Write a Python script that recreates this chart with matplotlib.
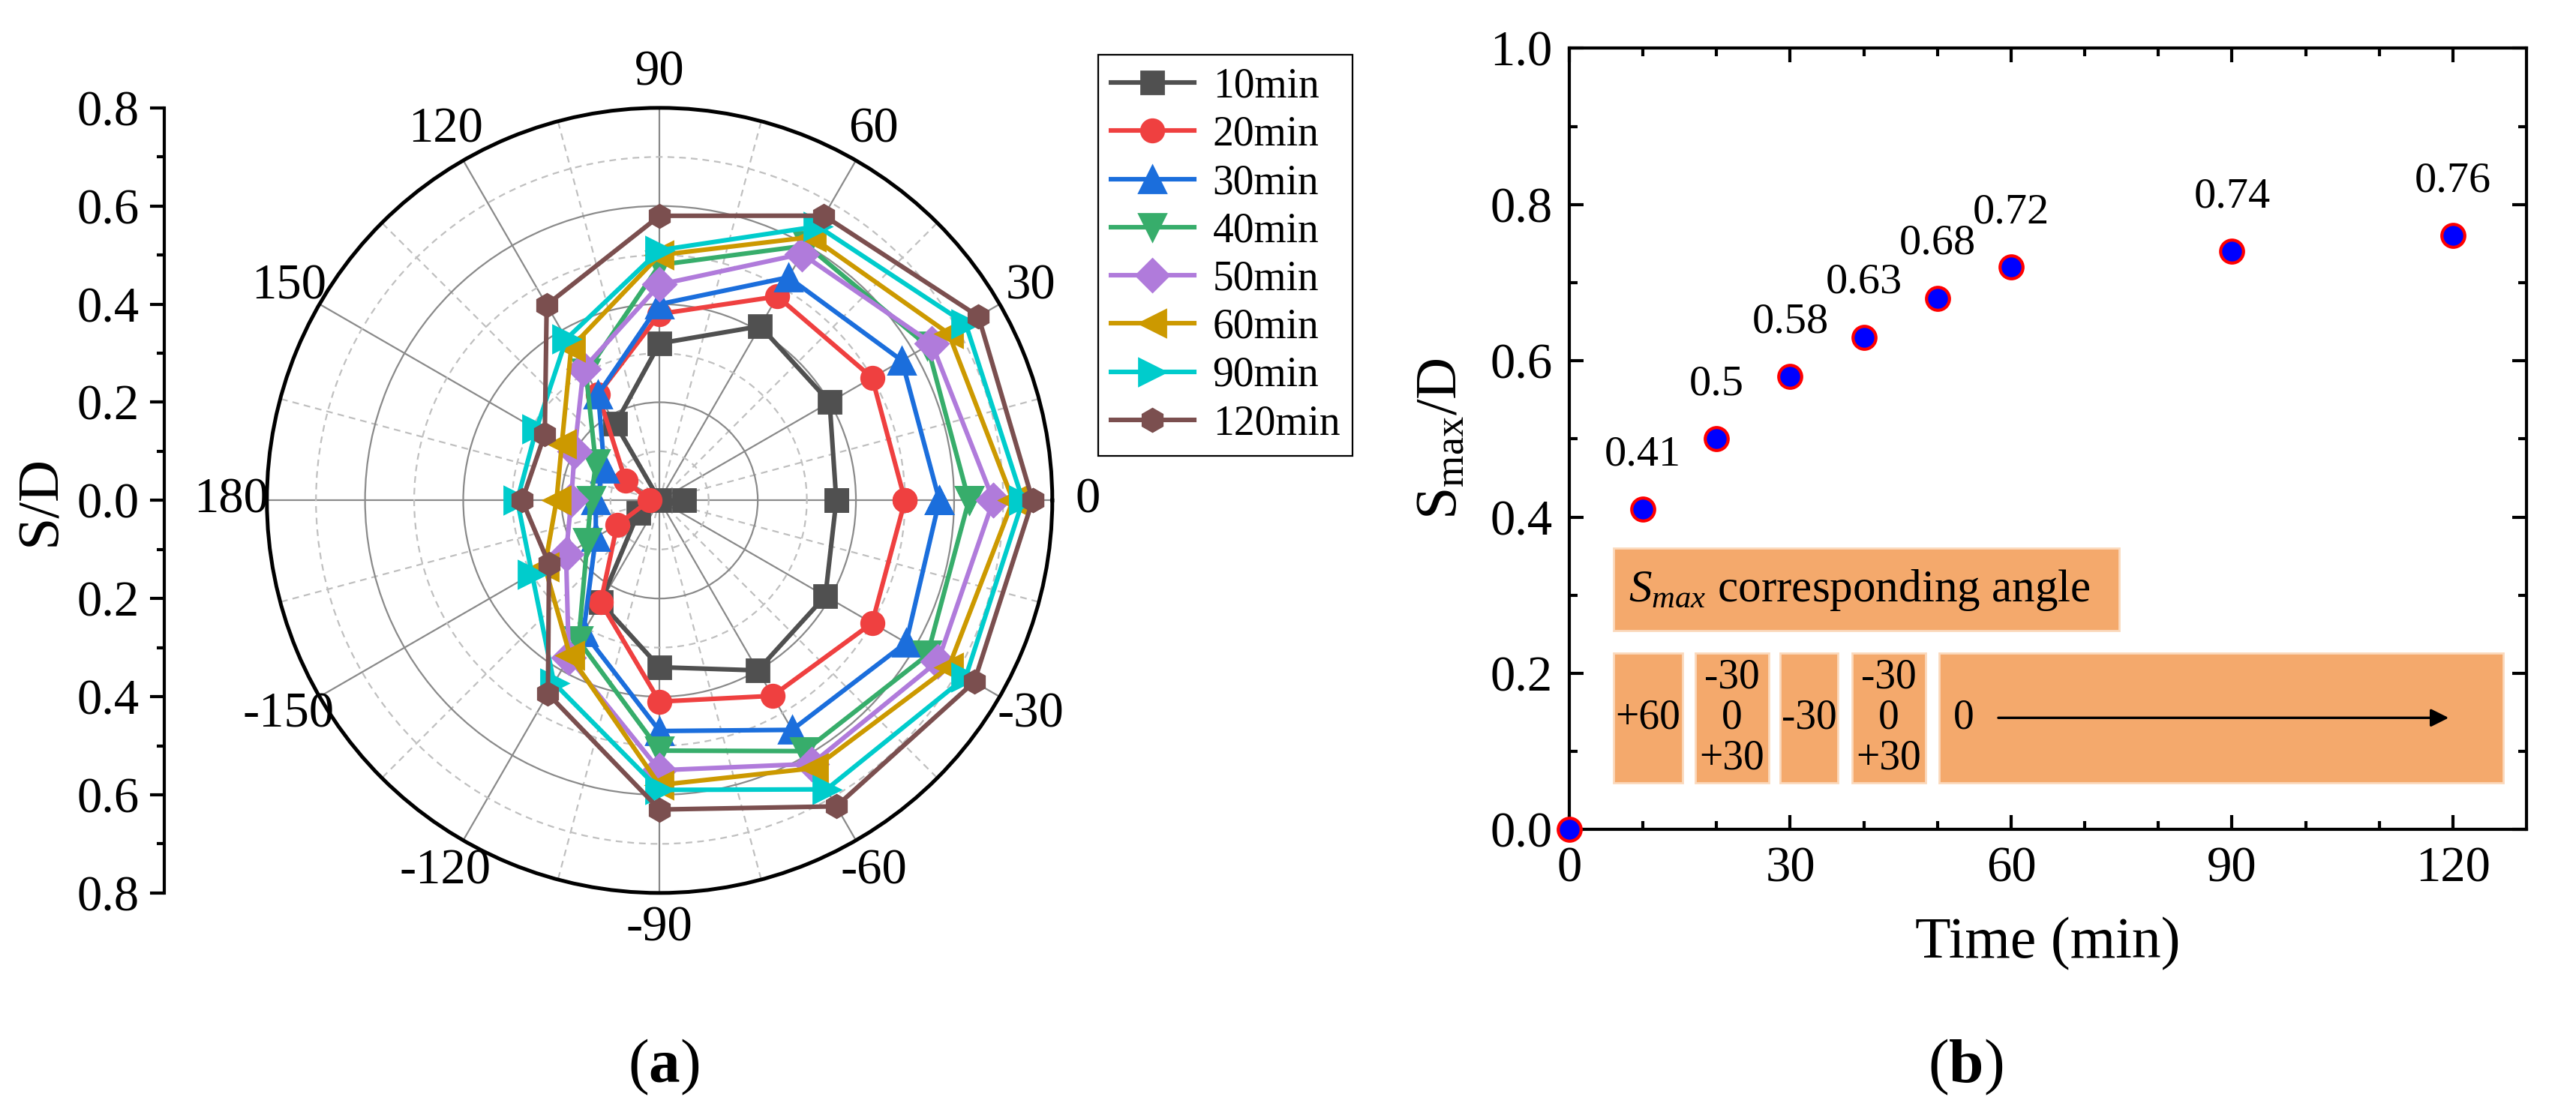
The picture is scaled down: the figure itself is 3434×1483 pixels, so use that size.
import matplotlib.pyplot as plt
import numpy as np
from matplotlib.lines import Line2D
from matplotlib.patches import Rectangle

plt.rcParams['font.family'] = ['Liberation Serif', 'DejaVu Serif']
plt.rcParams['mathtext.fontset'] = 'custom'
plt.rcParams['mathtext.rm'] = 'Liberation Serif'
plt.rcParams['mathtext.it'] = 'Liberation Serif:italic'
plt.rcParams['mathtext.bf'] = 'Liberation Serif:bold'

# ---- panel (a): S/D around the pile, one value per direction (deg) ----
ANGLES = [0, 30, 60, 90, 120, 150, 180, 210, 240, 270, 300, 330]
THETA_LABELS = ['0', '30', '60', '90', '120', '150', '180',
                '-150', '-120', '-90', '-60', '-30']

SD_10 = [0.36, 0.40, 0.41, 0.32, 0.18, 0.00, -0.05, 0.05, 0.24, 0.34, 0.40, 0.39]
SD_20 = [0.50, 0.50, 0.48, 0.38, 0.25, 0.08, 0.02, 0.10, 0.24, 0.41, 0.46, 0.50]
SD_30 = [0.57, 0.57, 0.525, 0.40, 0.25, 0.13, 0.13, 0.15, 0.31, 0.47, 0.54, 0.58]
SD_40 = [0.63, 0.63, 0.60, 0.48, 0.30, 0.15, 0.14, 0.17, 0.33, 0.51, 0.59, 0.63]
SD_50 = [0.68, 0.64, 0.58, 0.44, 0.31, 0.20, 0.18, 0.22, 0.37, 0.55, 0.62, 0.655]
SD_60 = [0.72, 0.68, 0.62, 0.50, 0.36, 0.23, 0.21, 0.27, 0.365, 0.58, 0.63, 0.68]
SD_90 = [0.74, 0.72, 0.645, 0.51, 0.38, 0.29, 0.29, 0.30, 0.43, 0.59, 0.68, 0.72]
SD_120 = [0.76, 0.75, 0.67, 0.58, 0.46, 0.27, 0.28, 0.26, 0.455, 0.63, 0.72, 0.74]

SERIES_LABELS = ['10min', '20min', '30min', '40min', '50min', '60min', '90min', '120min']
SERIES_VALUES = [SD_10, SD_20, SD_30, SD_40, SD_50, SD_60, SD_90, SD_120]
COLORS = ['#505050', '#EF4040', '#1B6EDC', '#37AD6B', '#B07BDB', '#CC9900', '#00CCCC', '#7B4F4F']
MARKERS = ['s', 'o', '^', 'v', 'D', '<', '>', 'h']

# ---- panel (b): maximum scour depth vs time ----
TIME = [0, 10, 20, 30, 40, 50, 60, 90, 120]
SMAX = [0.0, 0.41, 0.50, 0.58, 0.63, 0.68, 0.72, 0.74, 0.76]

ANGLE_BOX_X = [(6.0, 15.4), (17.1, 27.1), (28.6, 36.5), (38.4, 48.4), (50.2, 126.8)]
ANGLE_BOX_TEXT = ['+60', '-30\n0\n+30', '-30', '-30\n0\n+30', '0']
ORANGE = '#F4A96C'

fig = plt.figure(figsize=(17.17, 7.415), dpi=200)

# polar panel
ax = fig.add_axes([0.1036, 0.197, 0.3049, 0.706], projection='polar')
ax.set_theta_zero_location('E')
ax.set_theta_direction(1)
ax.set_rlim(0, 0.8)

ax.set_xticks(np.deg2rad(ANGLES))
ax.set_xticklabels(THETA_LABELS, fontsize=24)
ax.set_xticks(np.deg2rad(np.arange(15, 360, 30)), minor=True)
ax.set_yticks([0.2, 0.4, 0.6])
ax.set_yticks([0.1, 0.3, 0.5, 0.7], minor=True)
ax.set_yticklabels([])
ax.tick_params(axis='x', which='major', direction='in', length=7, width=1.5, pad=10)
ax.tick_params(axis='x', which='minor', direction='in', length=3.5, width=1.2)
ax.tick_params(axis='y', which='both', length=0)
ax.grid(True, which='major', color='#8a8a8a', linestyle='-', linewidth=0.8)
ax.grid(True, which='minor', color='#c0c0c0', linestyle=(0, (4, 3)), linewidth=0.8)
ax.spines['polar'].set_linewidth(1.8)

theta = np.deg2rad(ANGLES + [ANGLES[0]])
handles = []
for label, vals, color, marker in zip(SERIES_LABELS, SERIES_VALUES, COLORS, MARKERS):
    r = np.array(vals + [vals[0]])
    # negative radius is drawn on the opposite side, as in the original plot
    th = np.where(r < 0, theta + np.pi, theta)
    ms = 13 if marker in '^v<>' else 11
    ax.plot(th, np.abs(r), color=color, marker=marker, markersize=ms,
            linewidth=2.2, label=label, clip_on=False)
    handles.append(Line2D([], [], color=color, marker=marker, markersize=ms, linewidth=2.2))

# S/D scale on the left of the polar plot
axl = fig.add_axes([0.0638, 0.197, 0.0001, 0.706])
for side in ['top', 'right', 'bottom']:
    axl.spines[side].set_visible(False)
axl.spines['left'].set_linewidth(1.5)
axl.set_xticks([])
axl.set_ylim(-0.8, 0.8)
ticks = np.round(np.arange(-0.8, 0.81, 0.2), 1)
axl.set_yticks(ticks)
axl.set_yticklabels([f'{abs(t):.1f}' for t in ticks], fontsize=24)
axl.set_yticks(np.round(np.arange(-0.7, 0.71, 0.2), 1), minor=True)
axl.tick_params(axis='y', which='major', direction='out', length=7, width=1.5, pad=5)
axl.tick_params(axis='y', which='minor', direction='out', length=3.5, width=1.5)
fig.text(0.016, 0.55, 'S/D', rotation=90, fontsize=28, ha='center', va='center')

leg = fig.legend(handles, SERIES_LABELS, loc='upper left', bbox_to_anchor=(0.4263, 0.9508),
                 borderaxespad=0, fancybox=False, edgecolor='black', framealpha=1,
                 fontsize=20, handlelength=2.0, labelspacing=0.22, borderpad=0.3,
                 handletextpad=0.45)
leg.get_frame().set_linewidth(0.8)

fig.text(0.2577, 0.04, r'($\mathbf{a}$)', fontsize=30, ha='center', va='center')

# scatter panel
bx = fig.add_axes([0.6092, 0.254, 0.3716, 0.7026])
bx.plot(TIME, SMAX, linestyle='none', marker='o', markersize=11,
        markerfacecolor='#0000FF', markeredgecolor='#FF0000', markeredgewidth=1.5,
        clip_on=False, zorder=5)
for t, s in zip(TIME[1:], SMAX[1:]):
    bx.text(t, s + 0.07, f'{s:g}', fontsize=21, ha='center', va='center')

bx.add_patch(Rectangle((6.0, 0.255), 68.7, 0.105, facecolor=ORANGE,
                       edgecolor='#FBD9BC', linewidth=1))
bx.text(8.0, 0.306, r'$S_{max}$ corresponding angle', fontsize=22, ha='left', va='center')
for (x0, x1), txt in zip(ANGLE_BOX_X, ANGLE_BOX_TEXT):
    bx.add_patch(Rectangle((x0, 0.06), x1 - x0, 0.166, facecolor=ORANGE,
                           edgecolor='#FBD9BC', linewidth=1))
    if txt == '0':
        bx.text(x0 + 3.4, 0.143, txt, fontsize=20, ha='center', va='center')
    else:
        bx.text((x0 + x1) / 2, 0.143, txt, fontsize=20, ha='center', va='center',
                linespacing=1.05)
bx.annotate('', xy=(120, 0.143), xytext=(57.7, 0.143),
            arrowprops=dict(arrowstyle='-|>', color='black', lw=1.2, mutation_scale=18))

bx.set_xlim(0, 130)
bx.set_ylim(0, 1.0)
bx.set_xticks([0, 30, 60, 90, 120])
bx.set_xticks(np.arange(10, 130, 10), minor=True)
bx.set_yticks(np.arange(0, 1.01, 0.2))
bx.set_yticks(np.arange(0.1, 1.0, 0.2), minor=True)
bx.yaxis.set_major_formatter(plt.FormatStrFormatter('%.1f'))
bx.tick_params(which='both', direction='in', top=True, right=True, labelsize=24, width=1.5)
bx.tick_params(which='major', length=7, pad=8)
bx.tick_params(which='minor', length=4)
for sp in bx.spines.values():
    sp.set_linewidth(1.5)
bx.set_xlabel('Time (min)', fontsize=28, labelpad=12)
bx.set_ylabel(r'S$_{\mathrm{max}}$/D', fontsize=28, labelpad=10)

fig.text(0.763, 0.04, r'($\mathbf{b}$)', fontsize=30, ha='center', va='center')

fig.savefig('out.png', dpi=200)
